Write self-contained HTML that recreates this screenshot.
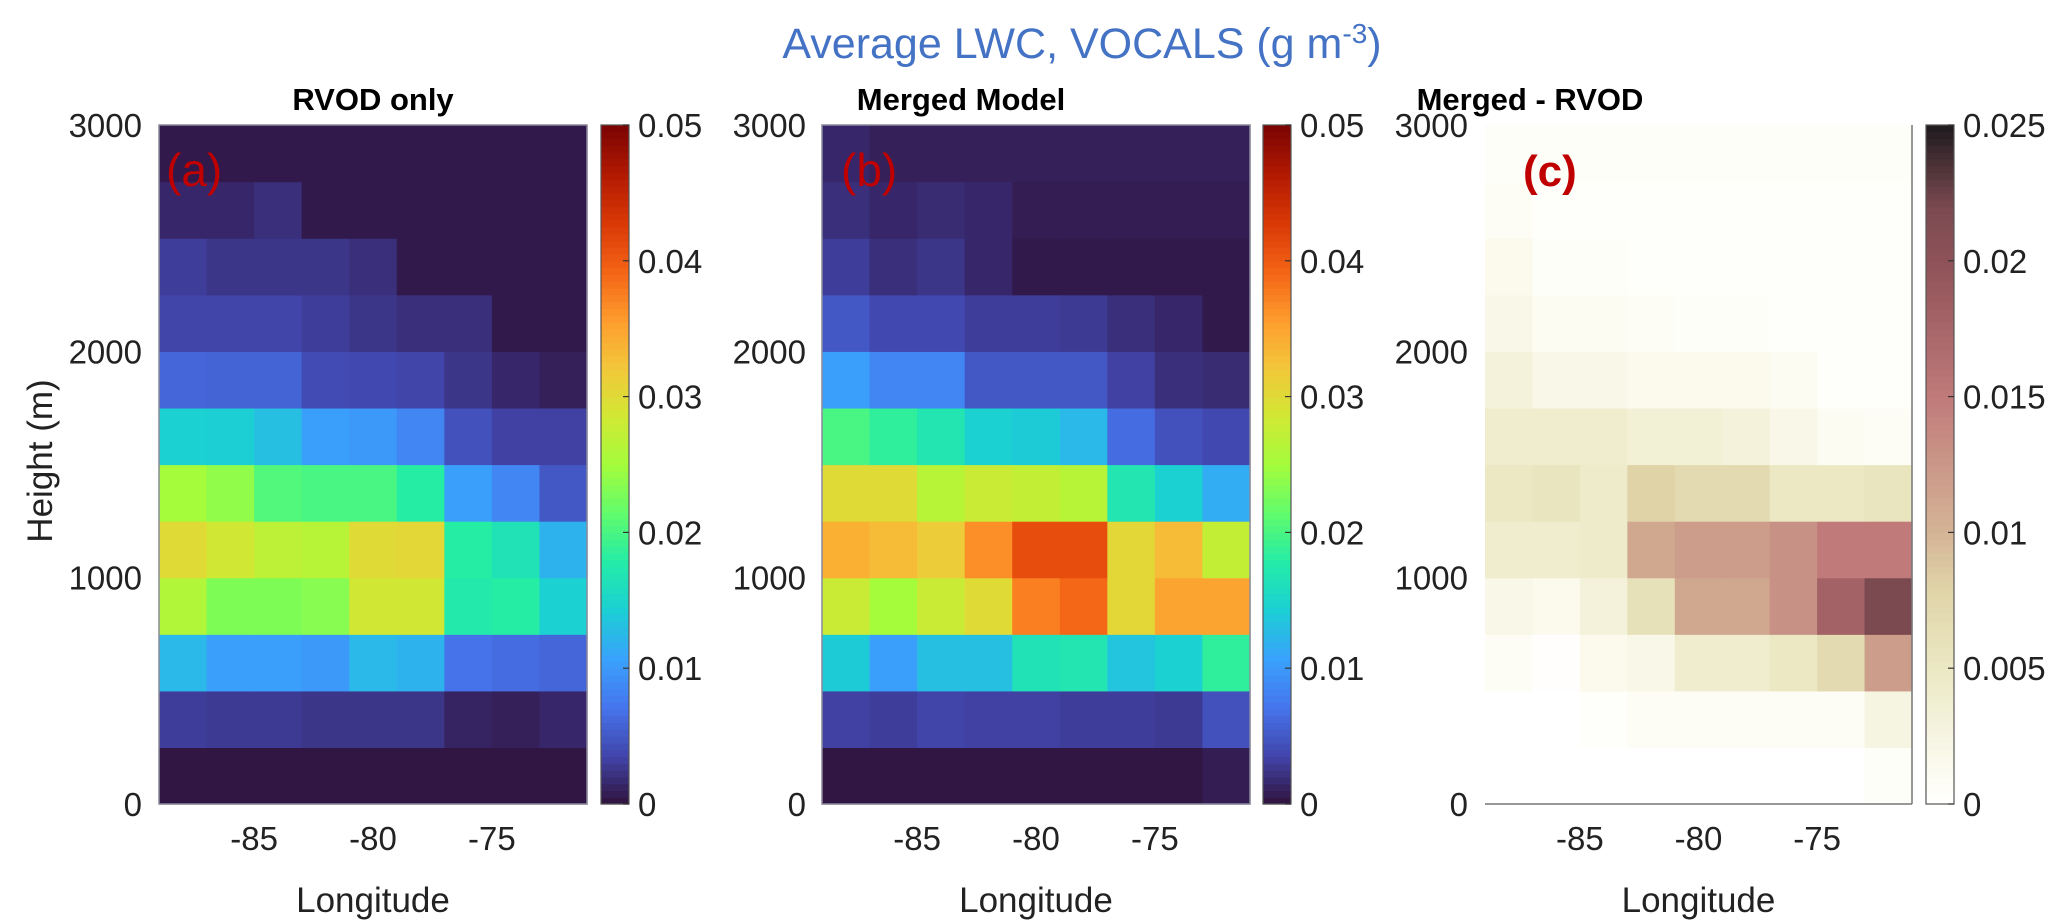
<!DOCTYPE html>
<html><head><meta charset="utf-8"><style>
html,body{margin:0;padding:0;background:#fff;}
svg{display:block;font-family:"Liberation Sans",Arial,sans-serif;}
</style></head><body>
<svg id="fig" width="2067" height="923" viewBox="0 0 2067 923" xmlns="http://www.w3.org/2000/svg">
<text x="1082" y="58" font-size="43" fill="#4472c4" text-anchor="middle">Average LWC, VOCALS (g m<tspan dy="-15" font-size="28">-3</tspan><tspan dy="15">)</tspan></text>
<g id="layer"></g>
</svg>
<script>
const longitudes = [-88,-86,-84,-82,-80,-78,-76,-74,-72];
const heightBins = [125,375,625,875,1125,1375,1625,1875,2125,2375,2625,2875];
const xTicks = [-85,-80,-75];
const yTicks = [0,1000,2000,3000];
const cbTicksAB = [0,0.01,0.02,0.03,0.04,0.05];
const cbTicksC = [0,0.005,0.01,0.015,0.02,0.025];
const cbLabelsC = ["0","0.005","0.01","0.015","0.02","0.025"];
// rows from bottom (0-250 m) to top; values in g m-3
const rvodValues = [
[0.00025,0.00025,0.00025,0.00025,0.00025,0.00025,0.00025,0.00025,0.00025],
[0.003,0.0028,0.0028,0.0025,0.0025,0.0025,0.0012,0.001,0.0015],
[0.0125,0.0105,0.0105,0.010,0.0125,0.012,0.007,0.0065,0.006],
[0.026,0.023,0.023,0.0235,0.0285,0.0285,0.0175,0.018,0.0145],
[0.030,0.0285,0.027,0.0265,0.030,0.0305,0.018,0.0165,0.012],
[0.025,0.024,0.0205,0.020,0.020,0.018,0.0105,0.0085,0.005],
[0.0145,0.0143,0.013,0.0105,0.010,0.0085,0.0045,0.0033,0.0033],
[0.006,0.0058,0.0058,0.004,0.0038,0.0035,0.0025,0.0015,0.001],
[0.0035,0.0035,0.0035,0.003,0.0025,0.002,0.002,0.0005,0.0005],
[0.003,0.0025,0.0025,0.0025,0.002,0.0005,0.0005,0.0005,0.0005],
[0.0015,0.0015,0.002,0.0005,0.0005,0.0005,0.0005,0.0005,0.0005],
[0.0005,0.0005,0.0005,0.0005,0.0005,0.0005,0.0005,0.0005,0.0005]
];
const mergedValues = [
[0.00025,0.00025,0.00025,0.00025,0.00025,0.00025,0.00025,0.00025,0.00075],
[0.0033,0.003,0.0035,0.0033,0.0033,0.003,0.003,0.0028,0.0045],
[0.014,0.0105,0.013,0.013,0.0165,0.017,0.0135,0.0145,0.0185],
[0.028,0.025,0.028,0.030,0.0375,0.039,0.0305,0.035,0.035],
[0.034,0.033,0.0315,0.0365,0.041,0.041,0.0305,0.033,0.0275],
[0.030,0.030,0.0265,0.028,0.0275,0.0265,0.017,0.0145,0.0115],
[0.020,0.0185,0.017,0.0145,0.014,0.0125,0.0065,0.0045,0.0038],
[0.0105,0.0085,0.0085,0.005,0.005,0.005,0.0033,0.002,0.0018],
[0.005,0.0038,0.0038,0.003,0.003,0.0028,0.002,0.0015,0.0005],
[0.003,0.002,0.0025,0.0015,0.0005,0.0005,0.0005,0.0005,0.0005],
[0.002,0.0015,0.0018,0.0015,0.00075,0.00075,0.00075,0.00075,0.00075],
[0.0015,0.001,0.001,0.001,0.001,0.001,0.001,0.001,0.001]
];
const diffValues = [
[0,0,0,0,0,0,0,0,0.0005],
[0,0,0.0003,0.0008,0.0008,0.0008,0.0008,0.0008,0.0025],
[0.0008,0.0002,0.0015,0.002,0.004,0.004,0.005,0.007,0.012],
[0.002,0.0015,0.003,0.006,0.011,0.011,0.013,0.018,0.022],
[0.004,0.004,0.0045,0.011,0.012,0.012,0.013,0.015,0.015],
[0.005,0.0055,0.0045,0.008,0.007,0.007,0.005,0.005,0.0055],
[0.004,0.004,0.004,0.0035,0.0035,0.003,0.002,0.001,0.0008],
[0.003,0.002,0.002,0.0015,0.0015,0.0015,0.001,0.0003,0.0003],
[0.002,0.001,0.001,0.0008,0.0005,0.0005,0.0003,0.0003,0.0003],
[0.0015,0.0005,0.0005,0.0003,0.0003,0.0003,0.0003,0.0003,0.0003],
[0.0008,0.0003,0.0003,0.0003,0.0003,0.0003,0.0003,0.0003,0.0003],
[0.0005,0.0005,0.0005,0.0005,0.0005,0.0005,0.0005,0.0005,0.0005]
];

const turbo=["#30123b","#4145ab","#4675ed","#39a2fc","#1bcfd4","#24eca6","#61fc6c","#a4fc3b","#d1e834","#f3c63a","#fe9b2d","#f36315","#d93806","#b11901","#7a0403"].map(h=>[parseInt(h.slice(1,3),16),parseInt(h.slice(3,5),16),parseInt(h.slice(5,7),16)]);
const pinkStops=[[0,[255,255,255]],[0.04,[253,252,243]],[0.2,[235,232,195]],[0.32,[224,211,168]],[0.4,[212,180,150]],[0.6,[192,122,122]],[0.8,[142,82,88]],[0.88,[122,74,80]],[1,[30,26,30]]];
function turboColor(t){t=Math.max(0,Math.min(1,t));const p=t*(turbo.length-1),i=Math.min(Math.floor(p),turbo.length-2),f=p-i;const c=turbo[i].map((v,k)=>Math.round(v+(turbo[i+1][k]-v)*f));return `rgb(${c})`;}
function pinkColor(t){t=Math.max(0,Math.min(1,t));for(let i=0;i<pinkStops.length-1;i++){const a=pinkStops[i],b=pinkStops[i+1];if(t<=b[0]){const f=(t-a[0])/(b[0]-a[0]);return `rgb(${a[1].map((v,k)=>Math.round(v+(b[1][k]-v)*f))})`;}}return "rgb(30,26,30)";}

const NS="http://www.w3.org/2000/svg";
const layer=document.getElementById('layer');
function mk(tag,attrs,parent){const e=document.createElementNS(NS,tag);for(const k in attrs)e.setAttribute(k,attrs[k]);(parent||layer).appendChild(e);return e;}
const Y0=804,Y1=125;
function yScale(h){return Y0+(Y1-Y0)*h/3000;}

const panels=[
 {x0:159,x1:587,data:rvodValues,vmax:0.05,cmap:turboColor,cbx:601,title:"RVOD only",tx:373,tag:"(a)",tagx:166,ylab:142,name:"rvod",box:true,cbTicks:cbTicksAB,cbLabels:["0","0.01","0.02","0.03","0.04","0.05"]},
 {x0:822,x1:1250,data:mergedValues,vmax:0.05,cmap:turboColor,cbx:1263,title:"Merged Model",tx:961,tag:"(b)",tagx:841,ylab:806,name:"merged",box:true,cbTicks:cbTicksAB,cbLabels:["0","0.01","0.02","0.03","0.04","0.05"]},
 {x0:1485,x1:1912,data:diffValues,vmax:0.025,cmap:pinkColor,cbx:1926,title:"Merged - RVOD",tx:1530,tag:"(c)",tagx:1523,ylab:1468,name:"difference",box:false,cbTicks:cbTicksC,cbLabels:cbLabelsC}
];
panels.forEach((P,pi)=>{
  const g=mk('g',{});
  
  
  const lonMin=-89,lonMax=-71;
  const xs=lon=>P.x0+(P.x1-P.x0)*(lon-lonMin)/(lonMax-lonMin);
  const dLon=2,dH=250;
  P.data.forEach((row,ri)=>{row.forEach((v,ci)=>{
    const xa=xs(longitudes[ci]-dLon/2),xb=xs(longitudes[ci]+dLon/2);
    const ya=yScale(heightBins[ri]+dH/2),yb=yScale(heightBins[ri]-dH/2);
    const r=mk('rect',{x:xa,y:ya,width:xb-xa+0.6,height:yb-ya+0.6,fill:P.cmap(v/P.vmax)},g);
    
    
  });});
  if(P.box){mk('rect',{x:P.x0,y:Y1,width:P.x1-P.x0,height:Y0-Y1,fill:'none',stroke:'#8a8a9a','stroke-width':1.5},g);}
  else{mk('line',{x1:P.x0,y1:Y0,x2:P.x1,y2:Y0,stroke:'#777','stroke-width':1.5},g);mk('line',{x1:P.x1,y1:Y1,x2:P.x1,y2:Y0,stroke:'#777','stroke-width':1.5},g);}
  xTicks.forEach(t=>{const tx=mk('text',{x:xs(t),y:850,'font-size':33,'text-anchor':'middle',fill:'#222'},g);tx.textContent=String(t);
    
    });
  yTicks.forEach(t=>{const ty=mk('text',{x:P.ylab,y:yScale(t)+12,'font-size':33,'text-anchor':'end',fill:'#222'},g);ty.textContent=String(t);
    
    });
  const xl=mk('text',{x:(P.x0+P.x1)/2,y:912,'font-size':35,'text-anchor':'middle',fill:'#222'},g);xl.textContent='Longitude';
  
  
  const tt=mk('text',{x:P.tx,y:110,'font-size':31,'font-weight':'bold','text-anchor':'middle',fill:'#000'},g);tt.textContent=P.title;
  
  
  const tg=mk('text',{x:P.tagx,y:186,'font-size':pi==2?44:46,fill:'#c00000','font-weight':pi==2?'bold':'normal'},g);tg.textContent=P.tag;
  
  
  const cb=mk('g',{},g);
  
  
  const n=100;
  for(let i=0;i<n;i++){const ya=Y0-(i+1)*(Y0-Y1)/n;mk('rect',{x:P.cbx,y:ya,width:28,height:(Y0-Y1)/n+0.6,fill:P.cmap((i+0.5)/n)},cb);}
  mk('rect',{x:P.cbx,y:Y1,width:28,height:Y0-Y1,fill:'none',stroke:'#555','stroke-width':1.2},cb);
  P.cbTicks.forEach((t,i)=>{const yy=Y0+(Y1-Y0)*t/P.vmax;
    mk('line',{x1:P.cbx+22,y1:yy,x2:P.cbx+28,y2:yy,stroke:'#333','stroke-width':1.2},cb);
    const l=mk('text',{x:P.cbx+37,y:yy+12,'font-size':33,fill:'#222'},cb);l.textContent=P.cbLabels[i];
    
    });
});
const yl=mk('text',{x:0,y:0,'font-size':35,'text-anchor':'middle',fill:'#222',transform:'translate(52,461) rotate(-90)'});
yl.textContent='Height (m)';


</script>
</body></html>
